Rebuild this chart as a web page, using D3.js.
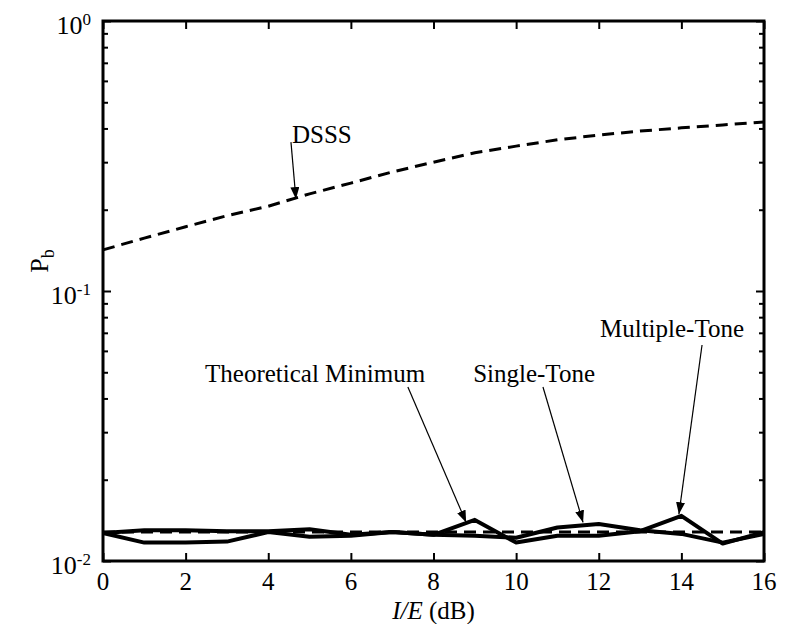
<!DOCTYPE html>
<html>
<head>
<meta charset="utf-8">
<script src="https://cdn.jsdelivr.net/npm/d3@7/dist/d3.min.js"></script>
<style>
  body { margin: 0; background: #fff; }
  svg { display: block; }
  text { font-family: "Liberation Serif", "Times New Roman", serif; fill: #000; }
</style>
</head>
<body>
<div id="chart"></div>
<script>
// I/E in dB
var ieDb = [0, 1, 2, 3, 4, 5, 6, 7, 8, 9, 10, 11, 12, 13, 14, 15, 16];

// bit error probability per curve
var dsss = [0.142, 0.157, 0.173, 0.190, 0.206, 0.229, 0.251, 0.276, 0.300, 0.325,
            0.344, 0.363, 0.378, 0.391, 0.402, 0.412, 0.423];
var theoreticalMin = [0.0128, 0.0128, 0.0128, 0.0128, 0.0128, 0.0128, 0.0128, 0.0128, 0.0128,
                      0.0128, 0.0128, 0.0128, 0.0128, 0.0128, 0.0128, 0.0128, 0.0128];
var singleTone = [0.0127, 0.0130, 0.0130, 0.0129, 0.0129, 0.0131, 0.0125, 0.0128, 0.0125,
                  0.0124, 0.0122, 0.0133, 0.0137, 0.0130, 0.0126, 0.0117, 0.0126];
var multipleTone = [0.0127, 0.0117, 0.0117, 0.0118, 0.0128, 0.0123, 0.0124, 0.0128, 0.0125,
                    0.0142, 0.0117, 0.0124, 0.0124, 0.0129, 0.0147, 0.0116, 0.0128];

var xTicks = [0, 2, 4, 6, 8, 10, 12, 14, 16];
var yMajor = [0.01, 0.1, 1];
var yExp = ["-2", "-1", "0"];

// labels with arrows, in data units: text at (tx,ty), arrow from (ax,ay) to (bx,by)
var notes = [
  { label: "DSSS", tx: 4.575, ty: 0.353, ax: 4.55, ay: 0.356, bx: 4.67, by: 0.219 },
  { label: "Theoretical Minimum", tx: 2.47, ty: 0.0460, ax: 7.38, ay: 0.0441, bx: 8.79, by: 0.0139 },
  { label: "Single-Tone", tx: 8.96, ty: 0.0460, ax: 10.65, ay: 0.0441, bx: 11.62, by: 0.0139 },
  { label: "Multiple-Tone", tx: 12.03, ty: 0.0676, ax: 14.5, ay: 0.0631, bx: 13.94, by: 0.0149 }
];

var width = 785, height = 624;
var margin = { top: 21, right: 21, bottom: 63, left: 103 };
var iw = width - margin.left - margin.right;
var ih = height - margin.top - margin.bottom;

var x = d3.scaleLinear().domain([0, 16]).range([0, iw]);
var y = d3.scaleLog().domain([0.01, 1]).range([ih, 0]);

var svg = d3.select("#chart").append("svg")
  .attr("width", width).attr("height", height);

svg.append("defs").append("marker")
  .attr("id", "arrow")
  .attr("markerUnits", "userSpaceOnUse")
  .attr("markerWidth", 13).attr("markerHeight", 9)
  .attr("refX", 12).attr("refY", 4.5)
  .attr("orient", "auto")
  .append("path").attr("d", "M0,0L12,4.5L0,9Z").attr("fill", "#000");

var g = svg.append("g")
  .attr("transform", "translate(" + margin.left + "," + margin.top + ")");

// minor log ticks
var minor = [];
[0.01, 0.1].forEach(function (d) {
  for (var k = 2; k <= 9; k++) minor.push(d * k);
});

function tickAxis(axis, tx, size, vals) {
  var a = g.append("g").attr("transform", tx)
    .call(axis.tickValues(vals).tickSize(size).tickFormat(""));
  a.select(".domain").remove();
  a.selectAll("line").attr("stroke", "#000").attr("stroke-width", 2);
  return a;
}

tickAxis(d3.axisBottom(x), "translate(0," + ih + ")", -8, xTicks);
tickAxis(d3.axisTop(x), "translate(0,0)", -8, xTicks);
tickAxis(d3.axisLeft(y), "translate(0,0)", -8, yMajor);
tickAxis(d3.axisRight(y), "translate(" + iw + ",0)", -8, yMajor);
tickAxis(d3.axisLeft(y), "translate(0,0)", -5, minor);
tickAxis(d3.axisRight(y), "translate(" + iw + ",0)", -5, minor);

// x tick labels
g.selectAll(".xl").data(xTicks).enter().append("text")
  .attr("x", function (d) { return x(d); })
  .attr("y", ih + 29)
  .attr("text-anchor", "middle")
  .style("font-size", "25px")
  .text(function (d) { return d; });

// y tick labels 10^n
var yl = g.selectAll(".yl").data(yMajor).enter().append("text")
  .attr("x", -12)
  .attr("y", function (d) { return y(d) + 13; })
  .attr("text-anchor", "end")
  .style("font-size", "26px");
yl.append("tspan").text("10");
yl.append("tspan").attr("dy", -9).style("font-size", "17px")
  .text(function (d, i) { return yExp[i]; });

// axis titles
var xt = svg.append("text")
  .attr("x", margin.left + iw / 2).attr("y", 619)
  .attr("text-anchor", "middle").style("font-size", "25px");
xt.append("tspan").style("font-style", "italic").text("I/E");
xt.append("tspan").text(" (dB)");

var yt = svg.append("text")
  .attr("transform", "translate(48,261) rotate(-90)")
  .attr("text-anchor", "middle").style("font-size", "26px");
yt.append("tspan").text("P");
yt.append("tspan").attr("dy", 6).style("font-size", "18px").text("b");

// curves
var line = d3.line()
  .x(function (d, i) { return x(ieDb[i]); })
  .y(function (d) { return y(d); });

g.append("path").datum(dsss).attr("d", line)
  .attr("fill", "none").attr("stroke", "#000").attr("stroke-width", 3)
  .attr("stroke-dasharray", "12,7");
g.append("path").datum(theoreticalMin).attr("d", line)
  .attr("fill", "none").attr("stroke", "#000").attr("stroke-width", 3)
  .attr("stroke-dasharray", "12,7");
[singleTone, multipleTone].forEach(function (s) {
  g.append("path").datum(s).attr("d", line)
    .attr("fill", "none").attr("stroke", "#000").attr("stroke-width", 4)
    .attr("stroke-linejoin", "round");
});

// frame
g.append("rect").attr("width", iw).attr("height", ih)
  .attr("fill", "none").attr("stroke", "#000").attr("stroke-width", 3);

// annotations
notes.forEach(function (n) {
  g.append("text").attr("x", x(n.tx)).attr("y", y(n.ty))
    .style("font-size", "25px").text(n.label);
  g.append("line")
    .attr("x1", x(n.ax)).attr("y1", y(n.ay))
    .attr("x2", x(n.bx)).attr("y2", y(n.by))
    .attr("stroke", "#000").attr("stroke-width", 1.2)
    .attr("marker-end", "url(#arrow)");
});
</script>
</body>
</html>
